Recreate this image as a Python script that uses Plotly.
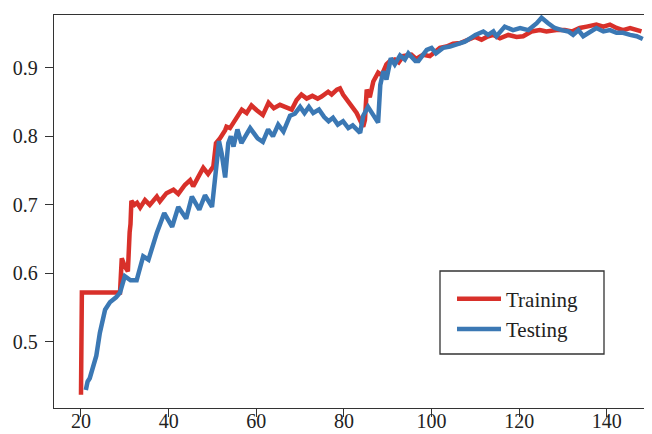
import plotly.graph_objects as go

train_x = [20, 20.2, 28.9, 29.3, 30, 30.7, 31.1, 31.3, 31.5, 32.2, 32.8, 33.5, 34.6, 35.7, 37.3, 38, 39.5,
           41.1, 42.2, 43.7, 44.9, 45.6, 47.2, 47.9, 49, 50.2, 50.8, 51.7, 52.9, 53.2, 54, 55.5, 56.7,
           57.8, 58.9, 60.1, 61.5, 62.8, 64, 65.4, 66.9, 68.1, 69.2, 70.3, 71.5, 72.8, 74, 74.9, 76.4,
           77.2, 78.4, 79.1, 79.8, 81.4, 82.9, 84.4, 84.8, 85.2, 85.9, 86.7, 87.8, 88.6, 89.7, 90.5,
           91.6, 92.5, 93.5, 95.4, 96.5, 97.3, 98.1, 99.6, 100.8, 101.9, 103.4, 104.9, 106.5, 108.4,
           109.9, 111.4, 112.6, 114.1, 115.6, 117.5, 119.4, 120.9, 122.8, 124.7, 126.2, 128.5, 130.4,
           132, 133.8, 135.4, 137.6, 139.2, 140.7, 142.2, 143.7, 145.3, 146.8, 147.9]
train_y = [0.423, 0.572, 0.572, 0.622, 0.610, 0.603, 0.660, 0.672, 0.706, 0.700, 0.703, 0.696, 0.707, 0.700,
           0.712, 0.705, 0.717, 0.722, 0.716, 0.729, 0.736, 0.727, 0.746, 0.754, 0.745, 0.756, 0.790,
           0.797, 0.809, 0.814, 0.812, 0.827, 0.839, 0.834, 0.845, 0.838, 0.831, 0.849, 0.841, 0.846,
           0.843, 0.839, 0.853, 0.861, 0.855, 0.859, 0.855, 0.858, 0.865, 0.861, 0.868, 0.870, 0.861,
           0.848, 0.834, 0.814, 0.824, 0.868, 0.857, 0.880, 0.893, 0.889, 0.905, 0.910, 0.912, 0.908,
           0.917, 0.919, 0.913, 0.916, 0.919, 0.917, 0.924, 0.929, 0.931, 0.935, 0.936, 0.941, 0.945,
           0.941, 0.945, 0.948, 0.943, 0.948, 0.945, 0.946, 0.953, 0.955, 0.953, 0.955, 0.955, 0.953,
           0.958, 0.960, 0.963, 0.960, 0.963, 0.958, 0.955, 0.958, 0.955, 0.953]

test_x = [21.1, 21.5, 22, 22.7, 23.5, 24.3, 25, 25.5, 26.6, 28, 28.9, 29.6, 30, 31.3, 32.7, 34.2, 35.4,
          37.3, 39, 40.8, 42.2, 44, 45.3, 47, 48.3, 49.9, 50.6, 51.5, 52.1, 52.9, 53.6, 54.2, 54.8, 55.7,
          56.6, 57.5, 58.6, 60.3, 61.5, 62.7, 63.8, 65, 66.2, 67.7, 68.8, 70, 71, 72, 73, 74.3, 75.5,
          76.5, 77.5, 78.6, 79.8, 81, 82, 83.7, 84.4, 85.5, 86.7, 87.8, 88.3, 89, 89.7, 90.7, 91.6,
          92.8, 93.9, 94.7, 96.3, 97, 98.9, 100, 101, 102.6, 104.2, 105.7, 107.6, 108.8, 110, 111.8,
          112.9, 114.1, 114.8, 116.7, 118.6, 120.2, 122.1, 124, 125.1, 126.6, 128.1, 129.7, 131.2,
          132.3, 133.5, 134.6, 136.1, 137.6, 139.2, 140.7, 142.2, 143.7, 145.3, 146.8, 148.2]
test_y = [0.430, 0.442, 0.447, 0.463, 0.480, 0.513, 0.535, 0.547, 0.558, 0.565, 0.572, 0.590, 0.596, 0.590,
          0.590, 0.625, 0.620, 0.659, 0.688, 0.668, 0.697, 0.680, 0.712, 0.693, 0.714, 0.697, 0.745,
          0.793, 0.775, 0.740, 0.790, 0.800, 0.785, 0.810, 0.790, 0.800, 0.812, 0.797, 0.792, 0.810,
          0.800, 0.817, 0.807, 0.830, 0.833, 0.843, 0.834, 0.843, 0.834, 0.839, 0.828, 0.822, 0.827,
          0.817, 0.822, 0.812, 0.816, 0.805, 0.830, 0.843, 0.830, 0.820, 0.875, 0.895, 0.883, 0.914,
          0.905, 0.918, 0.912, 0.921, 0.910, 0.910, 0.926, 0.929, 0.921, 0.929, 0.931, 0.934, 0.938,
          0.943, 0.948, 0.953, 0.948, 0.953, 0.946, 0.960, 0.955, 0.958, 0.955, 0.965, 0.973, 0.965,
          0.958, 0.955, 0.953, 0.948, 0.955, 0.946, 0.953, 0.958, 0.953, 0.955, 0.951, 0.951, 0.948,
          0.946, 0.942]

x_ticks = [20, 40, 60, 80, 100, 120, 140]
y_ticks = [0.5, 0.6, 0.7, 0.8, 0.9]

RED = "#d8302a"
BLUE = "#3b78b4"
FONT = "Liberation Serif"
AX = "#333333"

# page body has an 8px default margin; figure is sized so the plot area lands at
# page x 54..652, y 15..408
fig = go.Figure()
fig.add_trace(go.Scatter(x=train_x, y=train_y, mode="lines", name="Training",
                         line=dict(color=RED, width=4.5)))
fig.add_trace(go.Scatter(x=test_x, y=test_y, mode="lines", name="Testing",
                         line=dict(color=BLUE, width=4.5)))

fig.update_layout(
    width=644, height=426,
    margin=dict(l=46, r=0, t=7, b=26),
    paper_bgcolor="white", plot_bgcolor="white",
    font=dict(family=FONT, size=20, color="#222222"),
    showlegend=True,
    legend=dict(x=(452 - 54) / 598, y=(408 - 278.5) / 393, xanchor="left", yanchor="top",
                bgcolor="rgba(0,0,0,0)", borderwidth=0,
                font=dict(family=FONT, size=21, color="#222222"),
                itemwidth=44, tracegroupgap=0),
    shapes=[dict(type="rect", xref="paper", yref="paper",
                 x0=(440 - 54) / 598, x1=(604 - 54) / 598,
                 y0=(408 - 354) / 393, y1=(408 - 271) / 393,
                 line=dict(color="#333333", width=1.3), fillcolor="rgba(0,0,0,0)")],
)
fig.update_xaxes(range=[13.84, 150.3], tickvals=x_ticks, ticks="outside", ticklen=8,
                 tickcolor=AX, showline=True, linecolor=AX, linewidth=1.3, mirror=True,
                 showgrid=False, zeroline=False, tickfont=dict(size=20), automargin=False,
                 ticklabelstandoff=-13)
fig.update_yaxes(range=[0.4036, 0.977], tickvals=y_ticks, ticktext=[f"{v:.1f}" for v in y_ticks],
                 ticks="outside", ticklen=8, tickcolor=AX, showline=True, linecolor=AX,
                 linewidth=1.3, mirror=False, showgrid=False, zeroline=False,
                 tickfont=dict(size=20), automargin=False, ticklabelstandoff=3)

fig.write_html("out.html")
